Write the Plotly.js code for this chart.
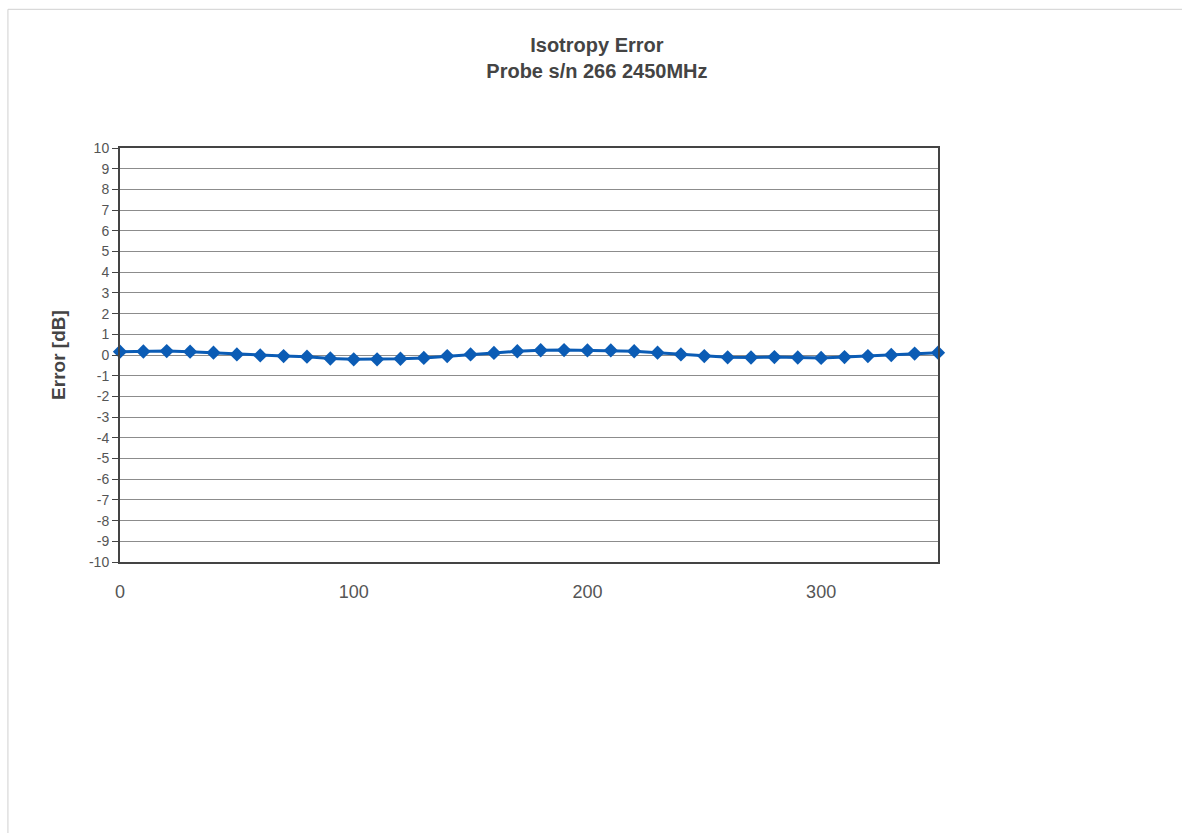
<!DOCTYPE html>
<html>
<head>
<meta charset="utf-8">
<script src="https://cdn.plot.ly/plotly-3.0.1.min.js"></script>
<style>html,body{margin:0;padding:0;background:#fff;}#chart{width:1182px;height:833px;}</style>
</head>
<body>
<div id="chart"></div>
<script>
const angles = [0,10,20,30,40,50,60,70,80,90,100,110,120,130,140,150,160,170,180,190,200,210,220,230,240,250,260,270,280,290,300,310,320,330,340,350];
const errorDb = [0.16,0.17,0.19,0.16,0.11,0.03,-0.02,-0.05,-0.08,-0.17,-0.21,-0.21,-0.18,-0.14,-0.05,0.03,0.1,0.18,0.23,0.24,0.22,0.22,0.18,0.11,0.03,-0.05,-0.11,-0.12,-0.1,-0.12,-0.14,-0.1,-0.05,0.0,0.07,0.11];
const yTicks = [-10,-9,-8,-7,-6,-5,-4,-3,-2,-1,0,1,2,3,4,5,6,7,8,9,10];
const xTicks = [0,100,200,300];

const trace = {
  x: angles, y: errorDb, type: 'scatter', mode: 'lines+markers',
  line: {color: '#0b5cb5', width: 3},
  marker: {symbol: 'diamond', size: 11, color: '#0b5cb5'},
  cliponaxis: false,
  hoverinfo: 'x+y'
};

const layout = {
  width: 1182, height: 833,
  paper_bgcolor: '#ffffff', plot_bgcolor: '#ffffff',
  margin: {l: 120, r: 244, t: 148, b: 271},
  showlegend: false,
  title: {
    text: '<b>Isotropy Error</b><br><b>Probe s/n 266 2450MHz</b>',
    x: 0.505, xanchor: 'center', y: 0.937, yanchor: 'middle',
    font: {family: 'Liberation Sans, Arial, sans-serif', size: 20, color: '#444'}
  },
  xaxis: {
    range: [0, 350], tickvals: xTicks, ticktext: xTicks.map(String),
    showgrid: false, zeroline: false, ticks: '',
    showline: true, mirror: true, linecolor: '#444', linewidth: 2,
    ticklabelstandoff: 12,
    tickfont: {family: 'Liberation Sans, Arial, sans-serif', size: 18, color: '#555'}
  },
  yaxis: {
    range: [-10, 10], tickvals: yTicks, ticktext: yTicks.map(String),
    showgrid: true, gridcolor: '#8c8c8c', gridwidth: 1, zeroline: false,
    ticks: 'outside', ticklen: 6, tickcolor: '#444', tickwidth: 1,
    showline: true, mirror: true, linecolor: '#444', linewidth: 2,
    tickfont: {family: 'Liberation Sans, Arial, sans-serif', size: 14, color: '#555'},
    title: {text: '<b>Error [dB]</b>', standoff: 18,
      font: {family: 'Liberation Sans, Arial, sans-serif', size: 19, color: '#444'}}
  },
  shapes: [
    {type: 'rect', xref: 'paper', yref: 'paper', x0: -0.137, x1: 1.5, y0: -0.8, y1: 1.335,
     line: {color: '#d0d0d0', width: 1}, layer: 'below'}
  ]
};

Plotly.newPlot('chart', [trace], layout, {displayModeBar: false, staticPlot: true});
</script>
</body>
</html>
